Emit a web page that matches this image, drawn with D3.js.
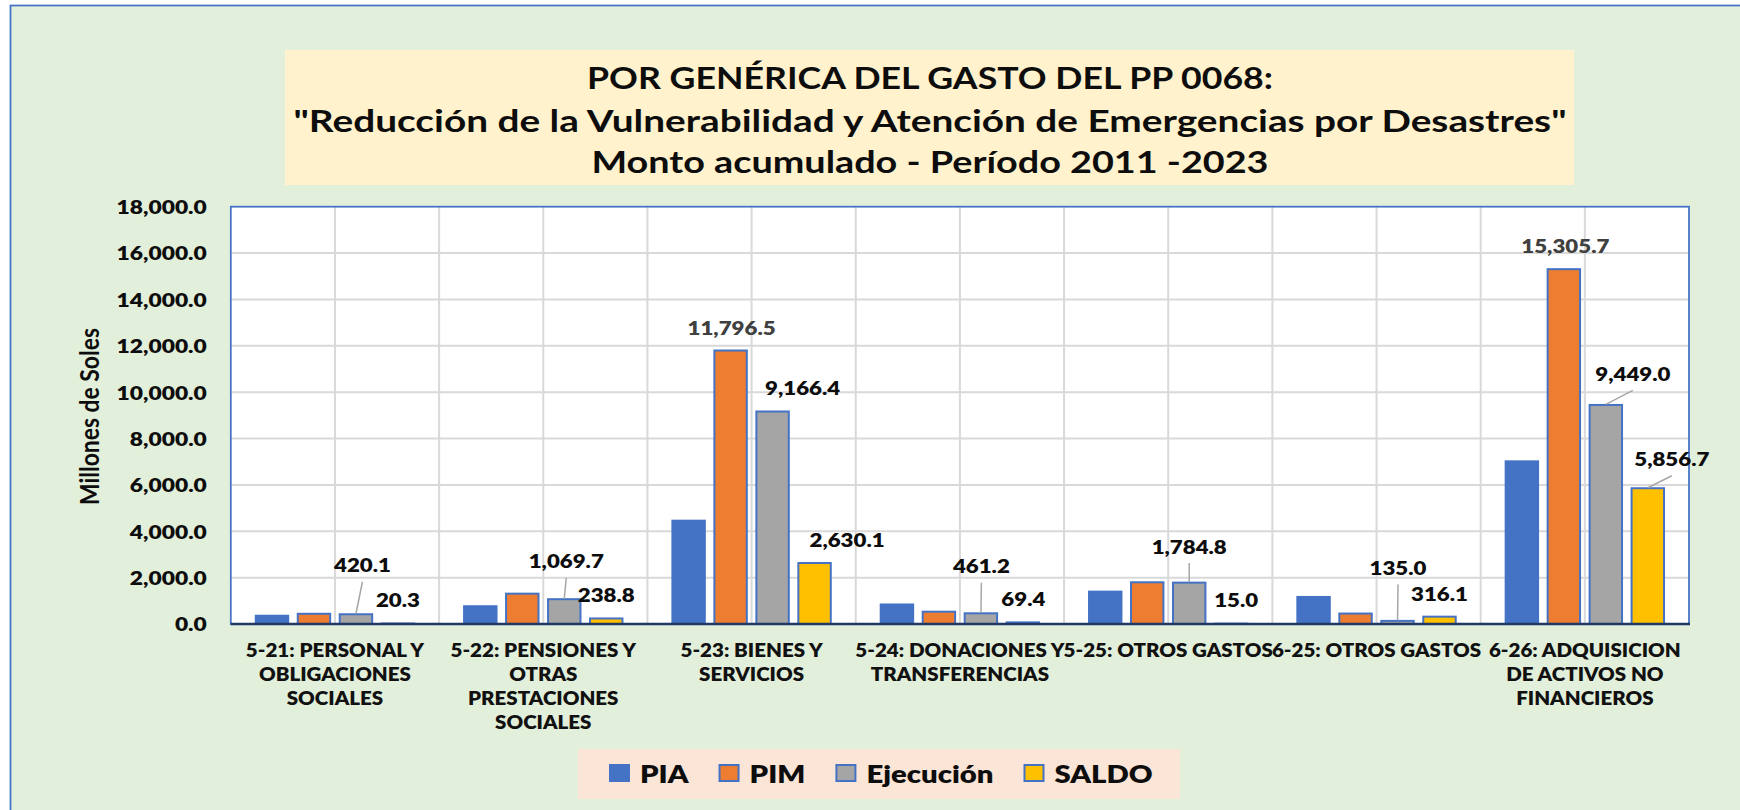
<!DOCTYPE html>
<html>
<head>
<meta charset="utf-8">
<script src="https://cdn.jsdelivr.net/npm/d3@7"></script>
<style>
  html, body { margin: 0; padding: 0; background: #ffffff; }
  svg { display: block; font-family: Lato, "Open Sans", sans-serif; }
</style>
</head>
<body>
<svg id="chart" width="1740" height="810"></svg>
<script>
// ---------------- DATA ----------------
const categories = [
  "5-21: PERSONAL Y OBLIGACIONES SOCIALES",
  "5-22: PENSIONES Y OTRAS PRESTACIONES SOCIALES",
  "5-23: BIENES Y SERVICIOS",
  "5-24: DONACIONES Y TRANSFERENCIAS",
  "5-25: OTROS GASTOS",
  "6-25: OTROS GASTOS",
  "6-26: ADQUISICION DE ACTIVOS NO FINANCIEROS"
];
const categoryLines = [
  ["5-21: PERSONAL Y", "OBLIGACIONES", "SOCIALES"],
  ["5-22: PENSIONES Y", "OTRAS", "PRESTACIONES", "SOCIALES"],
  ["5-23: BIENES Y", "SERVICIOS"],
  ["5-24: DONACIONES Y", "TRANSFERENCIAS"],
  ["5-25: OTROS GASTOS"],
  ["6-25: OTROS GASTOS"],
  ["6-26: ADQUISICION", "DE ACTIVOS NO", "FINANCIEROS"]
];
const seriesNames = ["PIA", "PIM", "Ejecución", "SALDO"];
const pia       = [400, 810, 4500, 885, 1440, 1210, 7060];
const pim       = [440.4, 1308.5, 11796.5, 530.6, 1799.8, 451.1, 15305.7];
const ejecucion = [420.1, 1069.7, 9166.4, 461.2, 1784.8, 135.0, 9449.0];
const saldo     = [20.3, 238.8, 2630.1, 69.4, 15.0, 316.1, 5856.7];
const yTicks = [0, 2000, 4000, 6000, 8000, 10000, 12000, 14000, 16000, 18000];
const titleLines = [
  "POR GENÉRICA DEL GASTO DEL PP 0068:",
  "\"Reducción de la Vulnerabilidad y Atención de Emergencias por Desastres\"",
  "Monto acumulado - Período 2011 -2023"
];
const yAxisTitle = "Millones de Soles";

// which values carry a data label (series index -> category indexes)
const labelled = [[], [2, 6], [0,1,2,3,4,5,6], [0,1,2,3,4,5,6]];

// ---------------- STYLE / LAYOUT ----------------
const colors = ["#4472C4", "#ED7D31", "#A5A5A5", "#FFC000"];
const strokes = [null, "#4472C4", "#4472C4", "#4472C4"];
// label layout: [series, category, dx, dy(baseline above bar top), leader, color]
const labelLayout = [
  [1, 2, 1, -16, false, "#404040"],
  [1, 6, 1.5, -16, false, "#404040"],
  [2, 0, 6.5, -42, true, "#0d0d0d"],
  [2, 1, 2, -31, true, "#0d0d0d"],
  [2, 2, 30, -16, false, "#0d0d0d"],
  [2, 3, 0.5, -40, true, "#0d0d0d"],
  [2, 4, 0, -29, true, "#0d0d0d"],
  [2, 5, 0.5, -46, true, "#0d0d0d"],
  [2, 6, 27, -24, true, "#0d0d0d"],
  [3, 0, 0, -17, false, "#0d0d0d"],
  [3, 1, 0, -16.5, false, "#0d0d0d"],
  [3, 2, 32.5, -16.5, false, "#0d0d0d"],
  [3, 3, 0.5, -16.5, false, "#0d0d0d"],
  [3, 4, 5, -16.5, false, "#0d0d0d"],
  [3, 5, 0, -16, false, "#0d0d0d"],
  [3, 6, 24, -22, true, "#0d0d0d"]
];

const W = 1740, H = 810;
const plot = { left: 230.8, right: 1689, top: 206.7, bottom: 624 };
const values = [pia, pim, ejecucion, saldo];
const heavy = 800;

const svg = d3.select("#chart");

function stretchTo(node, target) {
  d3.select(node).attr("textLength", target).attr("lengthAdjust", "spacingAndGlyphs");
}
function stretchBy(sel, f) {
  sel.each(function () {
    const w = this.getComputedTextLength();
    d3.select(this).attr("textLength", w * f).attr("lengthAdjust", "spacingAndGlyphs");
  });
}

// Background
svg.append("rect").attr("x", 10.5).attr("y", 5.5).attr("width", W + 20).attr("height", H + 20)
  .attr("fill", "#E2EFDA").attr("stroke", "#4472C4").attr("stroke-width", 1.75);

// Title box
svg.append("rect").attr("x", 285).attr("y", 50).attr("width", 1289).attr("height", 135).attr("fill", "#FFF2CC");
const titleBase = [88.5, 132, 173];
const titleWidths = [686, 1273, 677];
titleLines.forEach((t, i) => {
  const tx = svg.append("text").attr("x", 930).attr("y", titleBase[i])
    .attr("text-anchor", "middle").attr("font-size", 30).attr("font-weight", 700)
    .attr("fill", "#0d0d0d").text(t);
  stretchTo(tx.node(), titleWidths[i]);
});

// Scales
const x0 = d3.scaleBand().domain(d3.range(categories.length)).range([plot.left, plot.right]).padding(0);
const x1 = d3.scaleBand().domain(d3.range(seriesNames.length)).range([0, x0.bandwidth()])
  .paddingInner(0.18).paddingOuter(0.571);
const y = d3.scaleLinear().domain([0, 18000]).range([plot.bottom, plot.top]);

// Plot area
svg.append("rect").attr("x", plot.left).attr("y", plot.top)
  .attr("width", plot.right - plot.left).attr("height", plot.bottom - plot.top).attr("fill", "#ffffff");

// horizontal gridlines
svg.append("g").selectAll("line").data(yTicks.filter(d => d > 0 && d < 18000)).join("line")
  .attr("x1", plot.left).attr("x2", plot.right).attr("y1", d => y(d)).attr("y2", d => y(d))
  .attr("stroke", "#D9D9D9").attr("stroke-width", 2);
// vertical gridlines (category centres and boundaries)
const vlines = [];
categories.forEach((c, i) => {
  vlines.push(x0(i) + x0.bandwidth() / 2);
  if (i > 0) vlines.push(x0(i));
});
svg.append("g").selectAll("line").data(vlines).join("line")
  .attr("x1", d => d).attr("x2", d => d).attr("y1", plot.top).attr("y2", plot.bottom)
  .attr("stroke", "#D9D9D9").attr("stroke-width", 2);

svg.append("rect").attr("x", plot.left).attr("y", plot.top)
  .attr("width", plot.right - plot.left).attr("height", plot.bottom - plot.top)
  .attr("fill", "none").attr("stroke", "#4472C4").attr("stroke-width", 1.75);

// Y axis
const yAxis = d3.axisLeft(y).tickValues(yTicks).tickFormat(d3.format(",.1f")).tickSize(0).tickPadding(24);
const yg = svg.append("g").attr("transform", `translate(${plot.left},0)`).call(yAxis);
yg.select(".domain").remove();
yg.selectAll("text").attr("font-family", "Lato, sans-serif").attr("font-size", 19)
  .attr("font-weight", heavy).attr("fill", "#0d0d0d").attr("dy", "0.36em");
stretchBy(yg.selectAll("text"), 1.2);

// Y axis title
const yt = svg.append("text").attr("transform", "translate(99,416.5) rotate(-90)")
  .attr("text-anchor", "middle").attr("font-size", 27).attr("font-weight", 700)
  .attr("fill", "#0d0d0d").text(yAxisTitle);
stretchTo(yt.node(), 177);

// Bars
const barData = [];
values.forEach((arr, s) => arr.forEach((v, c) => barData.push({ s, c, v })));
svg.append("g").selectAll("rect").data(barData).join("rect")
  .attr("x", d => x0(d.c) + x1(d.s) + (strokes[d.s] ? 1 : 0))
  .attr("width", d => x1.bandwidth() - (strokes[d.s] ? 2 : 0))
  .attr("y", d => y(d.v))
  .attr("height", d => y(0) - y(d.v))
  .attr("fill", d => colors[d.s])
  .attr("stroke", d => strokes[d.s] || "none")
  .attr("stroke-width", 2);

// x axis line
svg.append("line").attr("x1", plot.left).attr("x2", plot.right + 1).attr("y1", y(0)).attr("y2", y(0))
  .attr("stroke", "#1F3864").attr("stroke-width", 2.5);

// Category labels
const xAxis = d3.axisBottom(x0).tickSize(0).tickFormat("");
const xg = svg.append("g").attr("transform", `translate(0,${plot.bottom})`).call(xAxis);
xg.select(".domain").remove();
xg.selectAll(".tick").each(function (c) {
  const t = d3.select(this).append("text").attr("text-anchor", "middle")
    .attr("font-family", "Lato, sans-serif").attr("font-size", 18).attr("font-weight", heavy)
    .attr("fill", "#111");
  categoryLines[c].forEach((ln, k) => {
    t.append("tspan").attr("x", 0).attr("y", 32.7 + k * 24).text(ln);
  });
});
xg.selectAll(".tick tspan").each(function () {
  const w = this.getComputedTextLength();
  d3.select(this).attr("textLength", w * 1.14).attr("lengthAdjust", "spacingAndGlyphs");
});

// Data labels & leader lines
const fmt = d3.format(",.1f");
const lg = svg.append("g");
labelLayout.forEach(([s, c, dx, dy, leader, col]) => {
  if (!labelled[s].includes(c)) return;
  const v = values[s][c];
  const bx = x0(c) + x1(s) + x1.bandwidth() / 2;
  const by = y(v);
  const lx = bx + dx, ly = by + dy;
  if (leader) {
    lg.append("line").attr("x1", lx).attr("y1", ly + 9.5).attr("x2", bx).attr("y2", by - 0.5)
      .attr("stroke", "#A6A6A6").attr("stroke-width", 1.5);
  }
  const t = lg.append("text").attr("x", lx).attr("y", ly).attr("text-anchor", "middle")
    .attr("font-size", 19).attr("font-weight", heavy).attr("fill", col).text(fmt(v));
  stretchBy(t, 1.17);
});

// Legend
svg.append("rect").attr("x", 578).attr("y", 749).attr("width", 602).attr("height", 50).attr("fill", "#FBE5D6");
let lxPos = 609;
seriesNames.forEach((n, i) => {
  svg.append("rect").attr("x", lxPos + (strokes[i] ? 1 : 0)).attr("y", 764 + (strokes[i] ? 1 : 0))
    .attr("width", 21 - (strokes[i] ? 2 : 0)).attr("height", 18 - (strokes[i] ? 2 : 0))
    .attr("fill", colors[i]).attr("stroke", strokes[i] || "none").attr("stroke-width", 2);
  const t = svg.append("text").attr("x", lxPos + 31).attr("y", 783)
    .attr("font-size", 24).attr("font-weight", heavy).attr("fill", "#0d0d0d").text(n);
  stretchBy(t, 1.22);
  lxPos += 31 + (+t.attr("textLength")) + 30;
});
</script>
</body>
</html>
